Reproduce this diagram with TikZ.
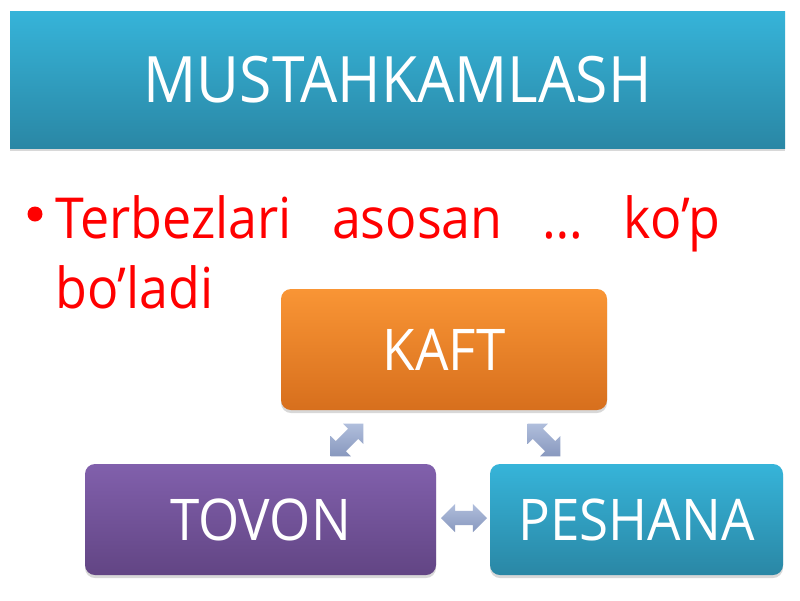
\documentclass[tikz,border=0pt]{standalone}
\usepackage{fontspec}
\setmainfont{Open Sans}[FakeStretch=0.92]
\usetikzlibrary{shapes.arrows,shadows}
\definecolor{titletop}{HTML}{36B4D9}
\definecolor{titlebot}{HTML}{2A87A5}
\definecolor{oratop}{HTML}{F99535}
\definecolor{orabot}{HTML}{D76F1D}
\definecolor{purtop}{HTML}{8160AC}
\definecolor{purbot}{HTML}{624584}
\definecolor{arrtop}{HTML}{B0BEDC}
\definecolor{arrbot}{HTML}{8898BE}
\definecolor{bulletred}{HTML}{FF0000}
\tikzset{
  boxbase/.style={draw=none, text=white, inner sep=0pt,
    drop shadow={opacity=0.25, shadow xshift=0pt, shadow yshift=-3pt, fill=black!60}},
  titlebox/.style={boxbase, rectangle, minimum width=775pt, minimum height=137pt,
    top color=titletop, bottom color=titlebot, font=\fontsize{64}{70}\selectfont},
  itembox/.style={boxbase, rectangle, rounded corners=10pt,
    font=\fontsize{57.5}{62}\selectfont},
  blockarrow/.style={double arrow, draw=none, top color=arrtop, bottom color=arrbot,
    minimum height=46pt, double arrow head extend=7pt,
    inner sep=0pt, inner xsep=0pt},
  bullettext/.style={text=bulletred, font=\fontsize{56.5}{70}\selectfont, inner sep=0pt},
  bulletdot/.style={circle, fill=bulletred, inner sep=0pt, minimum size=15pt}
}
\newcommand{\shaftstrut}{\rule{0pt}{14pt}}
\begin{document}
\begin{tikzpicture}[x=1pt,y=-1pt]
\useasboundingbox (0,0) rectangle (800,600);
\fill[white] (0,0) rectangle (800,600);
% title
\node[titlebox] (title) at (397.5,79.5) {\raisebox{-6pt}{MUSTAHKAMLASH}};
% bullet text
\node[bulletdot] (bul) at (35,214) {};
\node[bullettext, anchor=base west] (line1) at (55,238)
  {\makebox[665pt][l]{Terbezlari\hfill asosan\hfill …\hfill ko’p}};
\node[bullettext, anchor=base west] (line2) at (55,308) {bo’ladi};
% boxes
\node[itembox, minimum width=326pt, minimum height=121pt,
      top color=oratop, bottom color=orabot] (kaft) at (444,349.5) {\raisebox{-2pt}{KAFT}};
\node[itembox, minimum width=351pt, minimum height=111pt,
      top color=purtop, bottom color=purbot] (tovon) at (260.5,519.5) {TOVON};
\node[itembox, minimum width=293pt, minimum height=111pt,
      top color=titletop, bottom color=titlebot] (peshana) at (636.5,519.5) {PESHANA};
% connectors
\node[blockarrow, rotate=45] (a1) at (347,440) {\shaftstrut};
\node[blockarrow, rotate=-45] (a2) at (544,440) {\shaftstrut};
\node[blockarrow] (a3) at (464,518) {\shaftstrut};
\end{tikzpicture}
\end{document}
